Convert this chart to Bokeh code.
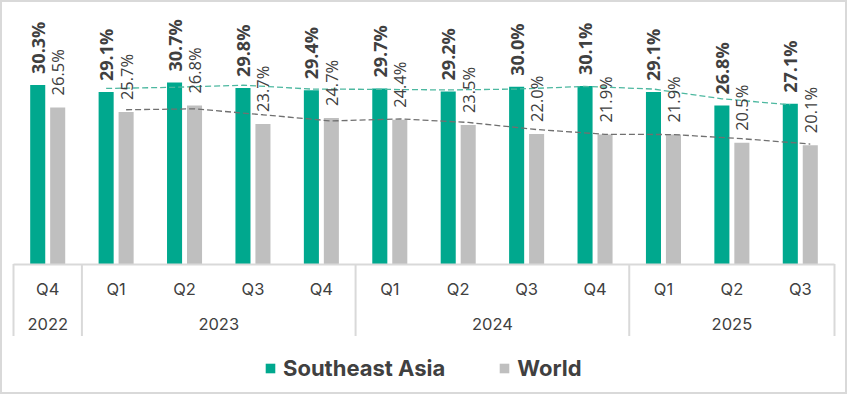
from math import pi
from bokeh.plotting import figure
from bokeh.models import ColumnDataSource, FactorRange, Range1d, Legend, LegendItem
from bokeh.transform import dodge
from bokeh.core.properties import value
from bokeh.embed import file_html
from bokeh.resources import INLINE

# ---- data ----
years = ["2022", "2023", "2023", "2023", "2023", "2024", "2024", "2024", "2024", "2025", "2025", "2025"]
quarters = ["Q4", "Q1", "Q2", "Q3", "Q4", "Q1", "Q2", "Q3", "Q4", "Q1", "Q2", "Q3"]
southeast_asia = [30.3, 29.1, 30.7, 29.8, 29.4, 29.7, 29.2, 30.0, 30.1, 29.1, 26.8, 27.1]
world = [26.5, 25.7, 26.8, 23.7, 24.7, 24.4, 23.5, 22.0, 21.9, 21.9, 20.5, 20.1]
series_names = ["Southeast Asia", "World"]

GREEN = "#00A88E"
GRAY = "#BFBFBF"
TEXT = "#404040"
LINE = "#D9D9D9"

factors = list(zip(years, quarters))
year_groups = list(dict.fromkeys(years))

src = ColumnDataSource(dict(
    x=factors,
    sea=southeast_asia,
    world=world,
    sea_lbl=[f"{v:.1f}%" for v in southeast_asia],
    world_lbl=[f"{v:.1f}%" for v in world],
))

# 2-period moving-average trendlines (as in the original chart)
ma_src = ColumnDataSource(dict(
    x=factors[1:],
    sea=[(a + b) / 2 for a, b in zip(southeast_asia[:-1], southeast_asia[1:])],
    world=[(a + b) / 2 for a, b in zip(world[:-1], world[1:])],
))

group_starts = [i for i in range(len(factors)) if i == 0 or years[i] != years[i - 1]]

PX = 5.91          # pixels per percentage point
BASE = 263.5       # baseline position in the canvas
p = figure(
    width=847, height=394,
    x_range=FactorRange(*factors, group_padding=0, factor_padding=0, range_padding=26 / 821),
    y_range=Range1d(-(394 - BASE) / PX, BASE / PX),
    output_backend="svg", toolbar_location=None, min_border=0,
)

OFF = 0.146
r_sea = p.vbar(x=dodge("x", -OFF, range=p.x_range), top="sea", width=0.22, source=src,
               fill_color=GREEN, line_color=None)
r_world = p.vbar(x=dodge("x", OFF, range=p.x_range), top="world", width=0.22, source=src,
                 fill_color=GRAY, line_color=None)

p.line(x=dodge("x", -OFF, range=p.x_range), y="sea", source=ma_src,
       line_color="#4DB8A0", line_width=1.3, line_dash="6 3")
p.line(x=dodge("x", OFF, range=p.x_range), y="world", source=ma_src,
       line_color="#707070", line_width=1.3, line_dash="6 3")

p.text(x=dodge("x", -OFF, range=p.x_range), y="sea", text="sea_lbl", source=src,
       angle=pi / 2, text_align="left", text_baseline="middle", y_offset=-11,
       text_font=value("Open Sans"), text_font_style="bold", text_font_size="18px",
       text_color=TEXT)
p.text(x=dodge("x", OFF, range=p.x_range), y="world", text="world_lbl", source=src,
       angle=pi / 2, text_align="left", text_baseline="middle", y_offset=-12,
       text_font=value("Open Sans"), text_font_size="16.5px", text_color=TEXT)

# group separators below the category axis
SEP = -72 / PX
p.segment(x0=dodge("x", -0.5, range=p.x_range), y0=0,
          x1=dodge("x", -0.5, range=p.x_range), y1=SEP,
          source=ColumnDataSource(dict(x=[factors[i] for i in group_starts])),
          line_color=LINE, line_width=2)
p.segment(x0=dodge("x", 0.5, range=p.x_range), y0=0,
          x1=dodge("x", 0.5, range=p.x_range), y1=SEP,
          source=ColumnDataSource(dict(x=[factors[-1]])),
          line_color=LINE, line_width=2)

# year (group) labels, centred on each group
p.text(x=year_groups, y=[-(323.5 - BASE) / PX] * len(year_groups), text=year_groups,
       text_align="center", text_baseline="middle",
       text_font=value("Inter"), text_font_size="16.5px", text_color=TEXT)

p.yaxis.visible = False
p.grid.visible = False
p.outline_line_color = LINE
p.outline_line_width = 3

ax = p.xaxis[0]
ax.fixed_location = 0
ax.bounds = (0, len(factors))
ax.axis_line_color = LINE
ax.axis_line_width = 2
ax.major_tick_line_color = None
ax.minor_tick_line_color = None
ax.major_label_text_font = "Inter"
ax.major_label_text_font_size = "16.5px"
ax.major_label_text_color = TEXT
ax.major_label_standoff = 9
ax.group_text_alpha = 0
ax.separator_line_color = None

legend = Legend(
    items=[LegendItem(label=series_names[0], renderers=[r_sea]),
           LegendItem(label=series_names[1], renderers=[r_world])],
    orientation="horizontal", location=(264, 13),
    glyph_width=12, glyph_height=12, label_standoff=7, spacing=53,
    padding=0, margin=0, border_line_color=None, background_fill_alpha=0,
    label_text_font="Inter", label_text_font_style="bold", label_text_font_size="22px",
    label_text_color=TEXT,
)
p.add_layout(legend)

open("out.html", "w").write(file_html(p, INLINE))
